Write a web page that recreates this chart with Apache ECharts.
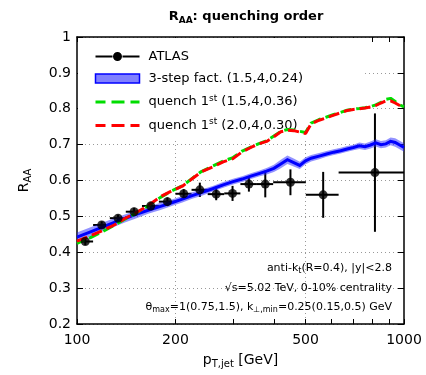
<!DOCTYPE html>
<html><head><meta charset="utf-8">
<script src="https://cdn.jsdelivr.net/npm/echarts@6/dist/echarts.min.js"></script>
<style>html,body{margin:0;padding:0;background:#fff}#c{width:426px;height:375px}</style>
</head><body><div id="c"></div>
<script>
// ---- ATLAS data ----
const atlasPt  = [106, 119, 133.5, 149.5, 168, 189, 212, 237.5, 266.5, 299, 335.5, 376.5, 449.5, 566, 815];
const atlasLo  = [100, 112, 126, 141, 158, 178, 200, 224, 251, 282, 316, 355, 398, 501, 631];
const atlasHi  = [112, 126, 141, 158, 178, 200, 224, 251, 282, 316, 355, 398, 501, 631, 1000];
const atlasRaa = [0.430, 0.476, 0.495, 0.513, 0.529, 0.541, 0.563, 0.574, 0.562, 0.564, 0.590, 0.590, 0.595, 0.560, 0.622];
const atlasErr = [0.010, 0.010, 0.010, 0.011, 0.012, 0.012, 0.013, 0.020, 0.017, 0.021, 0.021, 0.037, 0.036, 0.064, 0.165];

// ---- theory curves ----
const curvePt = [100,110,120,130,140,150,165,180,195,210,225,240,260,280,300,320,340,360,380,400,420,440,460,480,500,520,550,580,610,640,670,700,730,760,790,820,850,880,910,940,970,1000];
const threeMid = [0.442,0.457,0.471,0.483,0.494,0.504,0.517,0.528,0.538,0.548,0.558,0.566,0.577,0.588,0.597,0.604,0.612,0.619,0.626,0.634,0.646,0.658,0.650,0.642,0.655,0.662,0.668,0.674,0.679,0.683,0.688,0.692,0.697,0.694,0.699,0.705,0.700,0.702,0.709,0.706,0.699,0.692];
const threeHalf = [0.013,0.013,0.012,0.012,0.011,0.011,0.010,0.010,0.009,0.009,0.009,0.009,0.008,0.008,0.008,0.008,0.008,0.008,0.009,0.010,0.012,0.012,0.011,0.010,0.010,0.009,0.009,0.008,0.008,0.008,0.008,0.008,0.009,0.009,0.010,0.010,0.010,0.010,0.011,0.012,0.012,0.012];
const greenRaa = [0.425,0.441,0.458,0.475,0.492,0.507,0.529,0.553,0.571,0.585,0.606,0.625,0.640,0.654,0.664,0.682,0.693,0.703,0.711,0.724,0.737,0.742,0.741,0.737,0.734,0.760,0.770,0.777,0.784,0.790,0.796,0.799,0.801,0.803,0.806,0.811,0.818,0.826,0.829,0.820,0.811,0.805];
const redRaa   = [0.431,0.446,0.461,0.476,0.494,0.508,0.530,0.555,0.571,0.584,0.605,0.624,0.638,0.652,0.661,0.680,0.692,0.702,0.709,0.722,0.736,0.740,0.739,0.735,0.731,0.758,0.768,0.775,0.782,0.789,0.795,0.798,0.800,0.802,0.805,0.809,0.816,0.822,0.822,0.816,0.809,0.803];

// ---- axis ticks ----
const xLabelVals = [100, 200, 500, 1000];
const xTickVals  = [100, 200, 300, 400, 500, 600, 700, 800, 900, 1000];
const xGridVals  = [200, 500];

const NAME_ATLAS = 'ATLAS';
const NAME_BAND  = '3-step fact. (1.5,4,0.24)';
const NAME_G     = 'quench 1st (1.5,4,0.36)';
const NAME_R     = 'quench 1st (2.0,4,0.30)';

const FONT = 'DejaVu Sans';
const chart = echarts.init(document.getElementById('c'), null, {renderer: 'canvas'});

function xAxisBase(pos) {
  return {
    type: 'log', logBase: 10, min: 100, max: 1000, position: pos, gridIndex: 0, z: 0,
    axisLine: {show: true, onZero: false, lineStyle: {color: '#000', width: 1.5}},
    axisTick: {show: true, inside: true, length: 5, customValues: xTickVals, lineStyle: {color: '#000', width: 1}},
    axisLabel: {show: false},
    splitLine: {show: false},
    minorTick: {show: false}
  };
}
const xBottom = xAxisBase('bottom');
xBottom.axisLabel = {show: true, customValues: xLabelVals, color: '#000', fontFamily: FONT, fontSize: 14, margin: 9,
  formatter: v => String(Math.round(v))};
xBottom.name = '{p|p}{s|T,jet}{p| [GeV]}';
xBottom.nameLocation = 'middle';
xBottom.nameGap = 27;
xBottom.nameTextStyle = {rich: {
  p: {fontFamily: FONT, fontSize: 14, color: '#000'},
  s: {fontFamily: FONT, fontSize: 10, color: '#000', padding: [8, 0, 0, 0]}
}};
const xTop = xAxisBase('top');
const xGrid = {
  type: 'log', logBase: 10, min: 100, max: 1000, position: 'bottom', gridIndex: 0, z: 0,
  axisLine: {show: false}, axisLabel: {show: false},
  axisTick: {show: false, customValues: xGridVals},
  splitLine: {show: true, lineStyle: {color: '#999', width: 1, type: [1, 3]}}
};

function yAxisBase(pos) {
  return {
    type: 'value', min: 0.2, max: 1, interval: 0.1, position: pos, gridIndex: 0, z: 0,
    axisLine: {show: true, onZero: false, lineStyle: {color: '#000', width: 1.5}},
    axisTick: {show: true, inside: true, length: 6, lineStyle: {color: '#000', width: 1}},
    axisLabel: {show: false},
    splitLine: {show: false}
  };
}
const yLeft = yAxisBase('left');
yLeft.axisLabel = {show: true, color: '#000', fontFamily: FONT, fontSize: 14, margin: 6,
  formatter: v => Math.abs(v - 1) < 1e-9 ? '1' : v.toFixed(1)};
yLeft.splitLine = {show: true, lineStyle: {color: '#999', width: 1, type: [1, 3]}};
yLeft.name = '{p|R}{s|AA}';
yLeft.nameLocation = 'middle';
yLeft.nameRotate = 90;
yLeft.nameGap = 44;
yLeft.nameTextStyle = {rich: {
  p: {fontFamily: FONT, fontSize: 14, color: '#000'},
  s: {fontFamily: FONT, fontSize: 10, color: '#000', padding: [8, 0, 0, 0]}
}};
const yRight = yAxisBase('right');

const legendRich = {
  f: {fontFamily: FONT, fontSize: 13, color: '#000', padding: [0, 0, 0, 4]},
  t: {fontFamily: FONT, fontSize: 13, color: '#000'},
  sup: {fontFamily: FONT, fontSize: 9, color: '#000', padding: [0, 0, 7, 0]}
};

const option = {
  animation: false,
  backgroundColor: '#fff',
  title: {
    text: '{b|R}{bs|AA}{b|: quenching order}',
    left: 241, textAlign: 'center', top: 4,
    textStyle: {rich: {
      b: {fontFamily: FONT, fontSize: 13, fontWeight: 'bold', color: '#000'},
      bs: {fontFamily: FONT, fontSize: 9, fontWeight: 'bold', color: '#000', padding: [7, 0, 0, 0]}
    }}
  },
  grid: {left: 77, right: 22, top: 37, bottom: 51, containLabel: false},
  xAxis: [xBottom, xTop, xGrid],
  yAxis: [yLeft, yRight],
  legend: {
    show: true, orient: 'vertical', left: 78, top: 38, z: 1, selectedMode: false,
    backgroundColor: '#fff', padding: [12, 62, 8, 16],
    itemWidth: 44, itemHeight: 9, itemGap: 9,
    formatter: name => name.startsWith('quench 1st')
      ? '{f|quench 1}{sup|st}{t|' + name.slice(10) + '}'
      : '{f|' + name + '}',
    textStyle: {fontFamily: FONT, fontSize: 13, color: '#000', rich: legendRich},
    data: [
      {name: NAME_ATLAS, icon: 'path://M0,3.5 H17 V5.5 H0 Z M27,3.5 H44 V5.5 H27 Z M26.5,4.5 A4.5,4.5 0 1 1 17.5,4.5 A4.5,4.5 0 1 1 26.5,4.5 Z', itemStyle: {color: '#000'}},
      {name: NAME_BAND, icon: 'rect', itemStyle: {color: '#8080ff', borderColor: '#0000ff', borderWidth: 1.5}},
      {name: NAME_G, itemStyle: {opacity: 0}, lineStyle: {width: 3, type: [13, 6], color: '#00dd00', opacity: 1}},
      {name: NAME_R, itemStyle: {opacity: 0}, lineStyle: {width: 3, type: [13, 6], color: '#ff0000', opacity: 1}}
    ]
  },
  graphic: [
    {type: 'text', x: 392, y: 268, z: 5, style: {
      text: '{a|anti-k}{s|t}{a|(R=0.4), |y|<2.8}', align: 'right', verticalAlign: 'middle',
      rich: {a: {fontFamily: FONT, fontSize: 11, color: '#000'}, s: {fontFamily: FONT, fontSize: 8, color: '#000', padding: [6, 0, 0, 0]}}}},
    {type: 'text', x: 392, y: 288, z: 5, style: {
      text: '{a|√s=5.02 TeV, 0-10% centrality}', align: 'right', verticalAlign: 'middle',
      rich: {a: {fontFamily: FONT, fontSize: 11, color: '#000'}}}},
    {type: 'text', x: 392, y: 307, z: 5, style: {
      text: '{a|θ}{s|max}{a|=1(0.75,1.5), k}{s|⊥,min}{a|=0.25(0.15,0.5) GeV}', align: 'right', verticalAlign: 'middle',
      rich: {a: {fontFamily: FONT, fontSize: 11, color: '#000'}, s: {fontFamily: FONT, fontSize: 8, color: '#000', padding: [6, 0, 0, 0]}}}}
  ],
  series: [
    {
      type: 'custom', name: NAME_ATLAS, xAxisIndex: 0, yAxisIndex: 0, z: 2,
      data: atlasPt.map((p, i) => [p, atlasRaa[i], atlasLo[i], atlasHi[i], atlasErr[i]]),
      encode: {x: 0, y: 1},
      itemStyle: {color: '#000'},
      renderItem: (params, api) => {
        const y = api.value(1), e = api.value(4);
        const l = api.coord([api.value(2), y]);
        const r = api.coord([api.value(3), y]);
        const t = api.coord([api.value(0), y + e]);
        const b = api.coord([api.value(0), y - e]);
        return {type: 'group', children: [
          {type: 'line', shape: {x1: l[0], y1: l[1], x2: r[0], y2: r[1]}, style: {stroke: '#000', lineWidth: 2}},
          {type: 'line', shape: {x1: t[0], y1: t[1], x2: b[0], y2: b[1]}, style: {stroke: '#000', lineWidth: 2}}
        ]};
      }
    },
    {
      type: 'scatter', name: NAME_ATLAS, xAxisIndex: 0, yAxisIndex: 0, z: 2,
      data: atlasPt.map((p, i) => [p, atlasRaa[i]]),
      symbol: 'circle', symbolSize: 9, itemStyle: {color: '#000'}
    },
    {
      type: 'custom', name: NAME_BAND, xAxisIndex: 0, yAxisIndex: 0, z: 2,
      data: [[curvePt[0], threeMid[0]]],
      encode: {x: 0, y: 1},
      itemStyle: {color: '#8080ff'},
      renderItem: (params, api) => {
        const upper = curvePt.map((p, i) => api.coord([p, threeMid[i] + threeHalf[i]]));
        const lower = curvePt.map((p, i) => api.coord([p, threeMid[i] - threeHalf[i]])).reverse();
        const mid = curvePt.map((p, i) => api.coord([p, threeMid[i]]));
        return {type: 'group', children: [
          {type: 'polygon', shape: {points: upper.concat(lower)}, style: {fill: 'rgba(40,40,255,0.5)'}},
          {type: 'polyline', shape: {points: mid}, style: {fill: 'none', stroke: '#0000ff', lineWidth: 3}}
        ]};
      }
    },
    {
      type: 'line', name: NAME_G, xAxisIndex: 0, yAxisIndex: 0, z: 2,
      data: curvePt.map((p, i) => [p, greenRaa[i]]),
      symbol: 'none', itemStyle: {color: '#00dd00'},
      lineStyle: {color: '#00dd00', width: 3, type: [11, 5], dashOffset: 3}
    },
    {
      type: 'line', name: NAME_R, xAxisIndex: 0, yAxisIndex: 0, z: 2,
      data: curvePt.map((p, i) => [p, redRaa[i]]),
      symbol: 'none', itemStyle: {color: '#ff0000'},
      lineStyle: {color: '#ff0000', width: 3, type: [11, 5]}
    }
  ]
};
chart.setOption(option);
</script>
</body></html>
